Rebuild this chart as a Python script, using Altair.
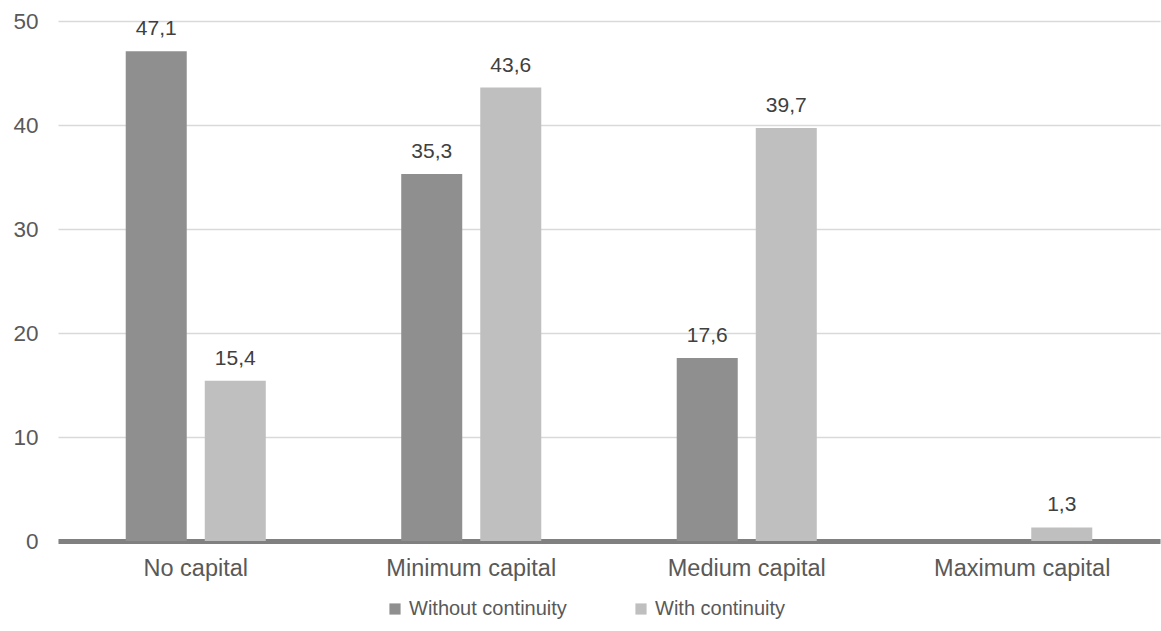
import altair as alt
import pandas as pd

categories = ["No capital", "Minimum capital", "Medium capital", "Maximum capital"]
series = ["Without continuity", "With continuity"]
without_vals = [47.1, 35.3, 17.6, None]
with_vals = [15.4, 43.6, 39.7, 1.3]
colors = ["#8f8f8f", "#bfbfbf"]

rows = []
for c, a, b in zip(categories, without_vals, with_vals):
    for s, v in zip(series, [a, b]):
        if v is None:
            continue
        rows.append({"cat": c, "series": s, "value": v,
                     "label": f"{v:.1f}".replace(".", ",")})
df = pd.DataFrame(rows)

FONT = "Liberation Sans"

base = alt.Chart(df).encode(
    x=alt.X("cat:N", sort=categories, title=None,
            scale=alt.Scale(paddingInner=0, paddingOuter=0),
            axis=alt.Axis(labelAngle=0, labelFontSize=23.5, labelColor="#595959",
                          labelFont=FONT, domainColor="#808080", domainWidth=5,
                          ticks=False, labelPadding=15, grid=False)),
    xOffset=alt.XOffset("series:N", sort=series,
                        scale=alt.Scale(paddingInner=0.228, paddingOuter=0.857)),
    y=alt.Y("value:Q", title=None,
            scale=alt.Scale(domain=[0, 50]),
            axis=alt.Axis(values=[0, 10, 20, 30, 40, 50], labelFontSize=22.5,
                          labelColor="#595959", labelFont=FONT, domain=False,
                          ticks=False, labelPadding=20, gridColor="#d9d9d9",
                          gridWidth=1.5)),
)

bars = base.mark_bar().encode(
    color=alt.Color("series:N", sort=series,
                    scale=alt.Scale(domain=series, range=colors),
                    legend=alt.Legend(title=None, orient="none", direction="horizontal",
                                      legendX=327, legendY=578, symbolType="square",
                                      symbolSize=125, symbolStrokeWidth=0,
                                      labelFontSize=20, labelColor="#595959",
                                      labelFont=FONT, columnPadding=64,
                                      labelOffset=4))
)

labels = base.mark_text(baseline="alphabetic", dy=-16, fontSize=21,
                        color="#404040", font=FONT).encode(text="label:N")

chart = (bars + labels).properties(
    width=1102, height=520,
    background="white",
    autosize=alt.AutoSizeParams(type="none"),
    padding={"left": 58, "top": 21, "right": 1, "bottom": 90},
).configure_view(stroke=None)

chart.save("out.html", embed_options={"renderer": "svg", "actions": False})
